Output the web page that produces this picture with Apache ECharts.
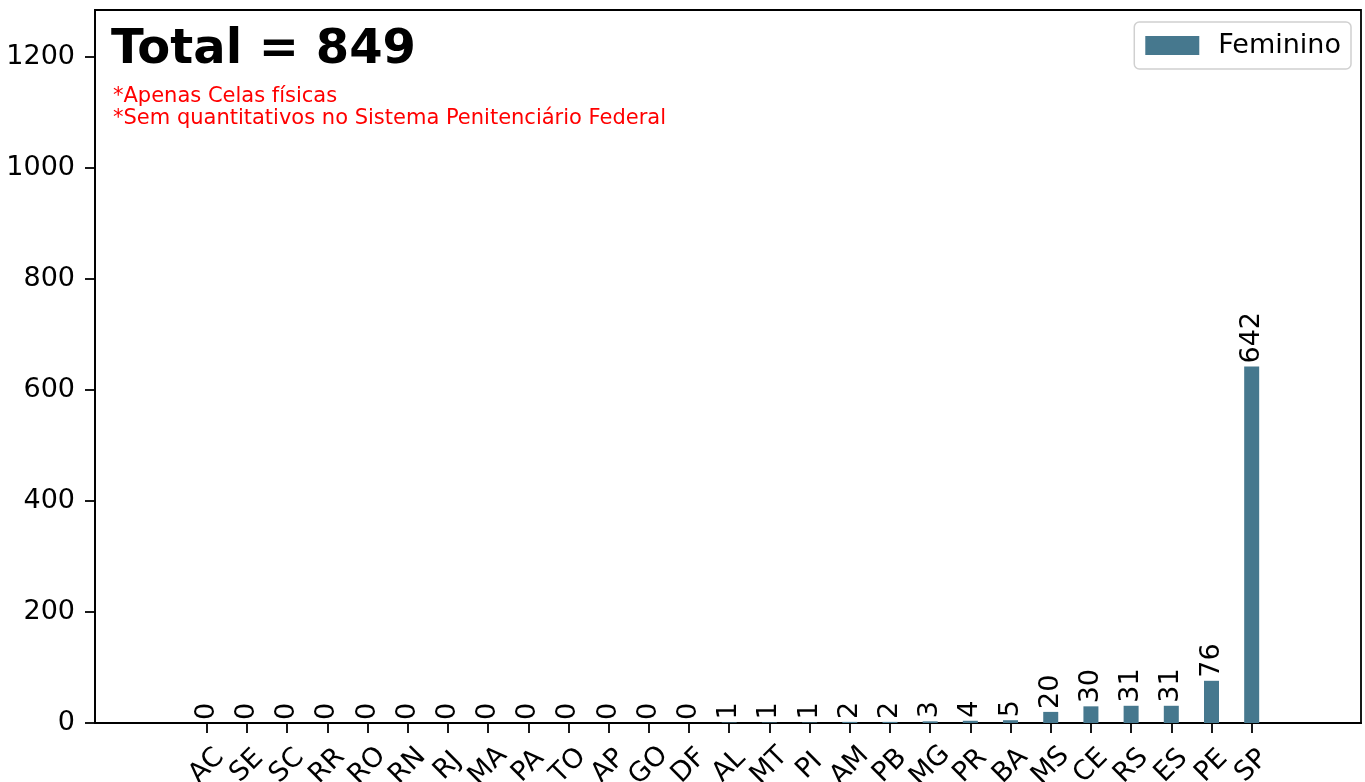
<!DOCTYPE html>
<html>
<head>
<meta charset="utf-8">
<script src="https://cdn.jsdelivr.net/npm/echarts@6/dist/echarts.min.js"></script>
<style>
html,body{margin:0;padding:0;background:#fff;}
#chart{width:1365px;height:782px;}
</style>
</head>
<body>
<div id="chart"></div>
<script>
const states = ['AC','SE','SC','RR','RO','RN','RJ','MA','PA','TO','AP','GO','DF','AL','MT','PI','AM','PB','MG','PR','BA','MS','CE','RS','ES','PE','SP'];
const values = [0,0,0,0,0,0,0,0,0,0,0,0,0,1,1,1,2,2,3,4,5,20,30,31,31,76,642];
const yTicks = [0,200,400,600,800,1000,1200];
const seriesName = 'Feminino';
const titleText = 'Total = 849';
const noteLines = ['*Apenas Celas físicas','*Sem quantitativos no Sistema Penitenciário Federal'];

const FONT = 'DejaVu Sans';
const positions = states.map((s,i)=>i);
const chart = echarts.init(document.getElementById('chart'), null, {renderer:'canvas'});
chart.setOption({
  animation:false,
  backgroundColor:'#ffffff',
  textStyle:{fontFamily:FONT},
  title:[
    {text:titleText,left:106,top:22,textStyle:{fontFamily:FONT,fontWeight:'bold',fontSize:48,color:'#000'}},
    {text:noteLines.join('\n'),left:108,top:81,textStyle:{fontFamily:FONT,fontWeight:'normal',fontSize:21,lineHeight:22,color:'#ff0000'}}
  ],
  legend:{
    data:[seriesName],
    right:14, top:22,
    orient:'vertical',
    padding:[10,10,10,11],
    itemWidth:54, itemHeight:19,
    borderColor:'#d0d0d0', borderWidth:1.5, borderRadius:5,
    backgroundColor:'rgba(255,255,255,0.8)',
    textStyle:{fontFamily:FONT,fontSize:27,color:'#000',padding:[0,0,0,14]},
    icon:'rect'
  },
  grid:{left:95,right:4,top:10,bottom:59,outerBoundsMode:'none',containLabel:false,show:true,borderColor:'#000',borderWidth:1.8,backgroundColor:'transparent'},
  xAxis:{
    type:'value',
    min:-2.78, max:28.72,
    axisLine:{show:true,onZero:false,lineStyle:{color:'#000',width:1.8}},
    axisTick:{show:true,customValues:positions,length:10,lineStyle:{color:'#000',width:1.8}},
    axisLabel:{customValues:positions,formatter:v=>states[Math.round(v)],rotate:45,align:'center',verticalAlign:'middle',margin:43,fontFamily:FONT,fontSize:27,color:'#000'},
    splitLine:{show:false}
  },
  yAxis:{
    type:'value',
    min:0, max:1284,
    axisLine:{show:true,onZero:false,lineStyle:{color:'#000',width:1.8}},
    axisTick:{show:true,customValues:yTicks,length:10,lineStyle:{color:'#000',width:1.8}},
    axisLabel:{customValues:yTicks,formatter:v=>String(v),margin:20,fontFamily:FONT,fontSize:27,color:'#000'},
    splitLine:{show:false}
  },
  series:[{
    name:seriesName,
    type:'bar',
    barWidth:15,
    data:values.map((v,i)=>[i,v]),
    itemStyle:{color:'#46788e'},
    label:{show:true,position:'top',rotate:90,align:'left',verticalAlign:'middle',distance:3,fontFamily:FONT,fontSize:27,color:'#000',formatter:p=>String(p.value[1])}
  }]
});
</script>
</body>
</html>
